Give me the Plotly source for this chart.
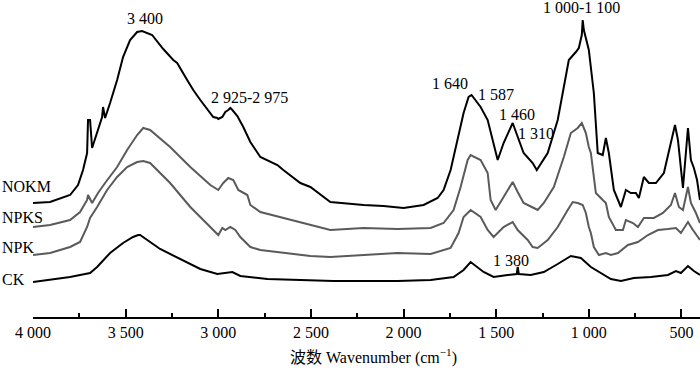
import plotly.graph_objects as go

# ---- data (wavenumber cm^-1, relative absorbance, stacked offsets included) ----
nokm_w = [4000, 3908, 3800, 3757, 3730, 3708, 3703, 3692, 3681, 3654, 3627, 3622, 3611, 3584, 3546, 3514,
          3476, 3438, 3411, 3357, 3297, 3243, 3222, 3168, 3135, 3097, 3027, 3005, 3000, 2978, 2962, 2946,
          2935, 2924, 2897, 2865, 2827, 2773, 2681, 2649, 2557, 2503, 2395, 2216, 2108, 2000, 1892, 1816,
          1784, 1746, 1708, 1676, 1649, 1633, 1584, 1546, 1492, 1460, 1411, 1384, 1352, 1303, 1281, 1222,
          1168, 1135, 1108, 1070, 1054, 1038, 1033, 1027, 1000, 973, 952, 925, 908, 892, 865, 827, 800, 773,
          746, 730, 703, 676, 638, 595, 557, 535, 519, 492, 465, 449, 433, 416, 400]
nokm_a = [114, 115, 122, 132, 147, 164, 197, 197, 169, 184, 200, 210, 199, 214, 237, 260,
          277, 285, 286, 282, 268, 257, 254, 237, 227, 217, 200, 199, 198, 200, 205, 207,
          209, 207, 201, 190, 175, 160, 152, 147, 134, 130, 115, 112, 111, 109, 112, 119,
          127, 147, 177, 204, 220, 222, 210, 197, 157, 174, 194, 180, 164, 154, 147, 164,
          197, 230, 257, 265, 269, 282, 297, 287, 267, 224, 164, 162, 179, 164, 127, 110, 127, 124,
          124, 119, 140, 134, 134, 144, 174, 192, 177, 129, 189, 157, 149, 137, 117]

npks_w = [4000, 3908, 3800, 3746, 3708, 3703, 3681, 3649, 3611, 3546, 3492, 3438, 3405, 3368, 3260, 3151,
          3043, 3000, 2973, 2946, 2919, 2892, 2843, 2827, 2773, 2649, 2503, 2395, 2216, 2033, 1854, 1784,
          1730, 1692, 1654, 1638, 1584, 1546, 1530, 1503, 1460, 1411, 1384, 1352, 1297, 1276, 1243, 1189,
          1135, 1097, 1060, 1038, 1016, 1000, 989, 962, 925, 908, 892, 854, 816, 800, 762, 735, 703, 649,
          600, 557, 535, 514, 492, 465, 449, 422, 400]
npks_a = [90, 92, 97, 105, 117, 122, 114, 124, 134, 150, 167, 182, 189, 187, 170, 150,
          132, 127, 134, 139, 137, 127, 122, 112, 105, 99, 92, 87, 89, 88, 89, 94,
          107, 130, 157, 162, 157, 144, 117, 107, 120, 135, 125, 114, 109, 107, 114, 130,
          160, 184, 189, 194, 184, 170, 164, 124, 117, 114, 100, 87, 87, 97, 94, 90, 99, 99,
          104, 112, 124, 110, 107, 130, 114, 104, 94]

npk_w = [4000, 3908, 3800, 3746, 3708, 3692, 3654, 3600, 3546, 3492, 3438, 3405, 3368, 3260, 3151, 3043,
         3000, 2978, 2962, 2935, 2908, 2881, 2827, 2773, 2649, 2503, 2395, 2216, 2033, 1854, 1746, 1703,
         1676, 1638, 1584, 1546, 1514, 1460, 1411, 1384, 1330, 1303, 1276, 1222, 1168, 1114, 1087, 1060,
         1033, 1016, 1000, 989, 973, 946, 908, 881, 843, 789, 735, 681, 627, 573, 530, 503, 465, 438, 400]
npk_a = [62, 64, 70, 75, 90, 99, 110, 127, 140, 150, 155, 156, 154, 134, 110, 90,
         82, 89, 87, 90, 87, 80, 70, 67, 64, 61, 60, 62, 64, 63, 69, 84,
         100, 107, 100, 87, 80, 90, 95, 87, 77, 70, 69, 77, 90, 107, 115, 114,
         112, 104, 90, 84, 70, 62, 64, 62, 64, 72, 75, 82, 87, 88, 89, 84, 95, 87, 77]

ck_w = [4000, 3908, 3800, 3746, 3692, 3654, 3584, 3514, 3460, 3432, 3422, 3314, 3205, 3097, 3005, 2924,
        2881, 2735, 2378, 2033, 1854, 1730, 1676, 1638, 1568, 1514, 1438, 1389, 1384, 1378, 1314, 1243,
        1168, 1097, 1043, 989, 881, 827, 757, 665, 573, 530, 503, 465, 433, 400]
ck_a = [35, 37, 40, 42, 44, 50, 64, 74, 80, 82, 82, 68, 58, 48, 43, 45,
        41, 38, 36, 36, 37, 40, 47, 55, 45, 40, 42, 43, 50, 43, 42, 45,
        53, 61, 59, 50, 38, 36, 39, 40, 42, 46, 44, 51, 46, 42]

series_names = ["NOKM", "NPKS", "NPK", "CK"]
series_label_y = [131, 100, 70, 38]
series_colors = ["#000000", "#5a5a5a", "#5a5a5a", "#000000"]

tick_vals = [4000, 3500, 3000, 2500, 2000, 1500, 1000, 500]
tick_text = ["4 000", "3 500", "3 000", "2 500", "2 000", "1 500", "1 000", "500"]

peak_labels = ["3 400", "2 925-2 975", "1 640", "1 587", "1 460", "1 310", "1 000-1 100", "1 380"]
peak_w = [3395, 2832, 1752, 1503, 1389, 1287, 1038, 1422]
peak_a = [299, 220, 234, 223, 203, 184, 310, 57]

FONT = "Liberation Serif, Times New Roman, Noto Sans CJK SC, serif"

fig = go.Figure()
for name, w, a, c in zip(series_names, [nokm_w, npks_w, npk_w, ck_w],
                         [nokm_a, npks_a, npk_a, ck_a], series_colors):
    fig.add_trace(go.Scatter(x=w, y=a, mode="lines", name=name,
                             line=dict(color=c, width=2), showlegend=False,
                             cliponaxis=False))

for name, y in zip(series_names, series_label_y):
    fig.add_annotation(x=-0.049, xref="paper", y=y, yref="y", text=name,
                       showarrow=False, xanchor="left", yanchor="middle",
                       font=dict(family=FONT, size=16, color="black"))

for t, x, y in zip(peak_labels, peak_w, peak_a):
    fig.add_annotation(x=x, y=y, text=t, showarrow=False, xanchor="center",
                       yanchor="middle", font=dict(family=FONT, size=16, color="black"))

fig.add_annotation(x=0.51, xref="paper", y=-0.126, yref="paper",
                   text="波数 Wavenumber (cm<sup>−1</sup>)", showarrow=False,
                   xanchor="center", yanchor="middle",
                   font=dict(family=FONT, size=16, color="black"))

fig.update_layout(
    width=700, height=368,
    margin=dict(l=33, r=0, t=0, b=51, autoexpand=False),
    plot_bgcolor="white", paper_bgcolor="white",
    xaxis=dict(range=[4000, 400], tickvals=tick_vals, ticktext=tick_text,
               ticks="inside", ticklen=8, tickwidth=1.5, tickcolor="black",
               showline=True, linecolor="black", linewidth=1.5,
               showgrid=False, zeroline=False,
               tickfont=dict(family=FONT, size=16, color="black"),
               minor=dict(dtick=250, tick0=0, ticks="inside", ticklen=4,
                          tickwidth=1.5, tickcolor="black", showgrid=False)),
    yaxis=dict(range=[0, 317], visible=False, showgrid=False, zeroline=False),
)

fig.write_html("out.html", config={"displayModeBar": False},
               post_script="document.body.style.margin='0';document.body.style.padding='0';")
